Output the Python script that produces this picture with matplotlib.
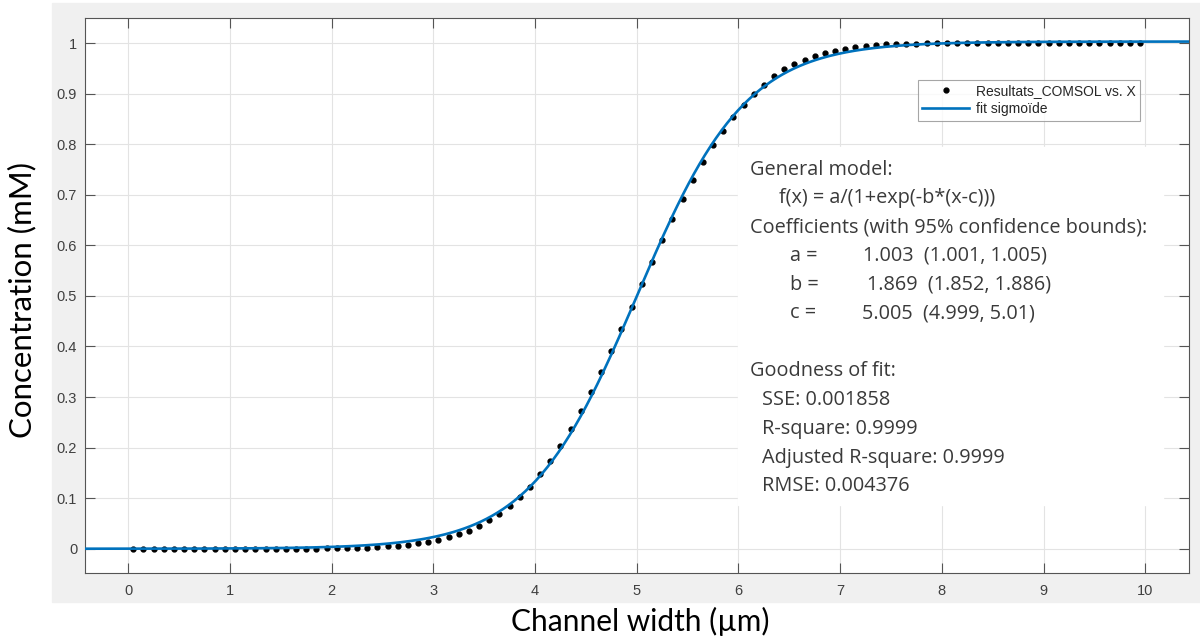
import matplotlib.pyplot as plt
import numpy as np
from matplotlib.patches import Rectangle

# Points simulés (COMSOL), un point tous les 0.1 µm
x_data = np.linspace(0.05, 9.95, 100)
y_data = [
    0.0, 0.0, 0.0, 0.0, 0.0, 0.0, 0.0, 0.0, 0.0, 0.0,
    0.0, 0.0, 0.0, 0.0, 0.0, 0.0001, 0.0001, 0.0002, 0.0003, 0.0005,
    0.0007, 0.0011, 0.0016, 0.0023, 0.0033, 0.0046, 0.0062, 0.0083, 0.0110, 0.0140,
    0.0175, 0.0226, 0.0288, 0.0360, 0.0453, 0.0560, 0.0690, 0.0840, 0.1020, 0.1230,
    0.1470, 0.1740, 0.2040, 0.2370, 0.2720, 0.3100, 0.3490, 0.3910, 0.4350, 0.4780,
    0.5230, 0.5670, 0.6100, 0.6520, 0.6920, 0.7300, 0.7650, 0.7980, 0.8270, 0.8540,
    0.8780, 0.8990, 0.9180, 0.9340, 0.9480, 0.9580, 0.9670, 0.9740, 0.9800, 0.9850,
    0.9890, 0.9920, 0.9945, 0.9960, 0.9972, 0.9980, 0.9986, 0.9991, 0.9994, 0.9996,
    0.9997, 0.9998, 0.9999, 0.9999, 1.0, 1.0, 1.0, 1.0, 1.0, 1.0,
    1.0, 1.0, 1.0, 1.0, 1.0, 1.0, 1.0, 1.0, 1.0, 1.0,
]

# Coefficients du fit sigmoïde
a, b, c = 1.003, 1.869, 5.005

x_ticks = [0, 1, 2, 3, 4, 5, 6, 7, 8, 9, 10]
y_ticks = [0, 0.1, 0.2, 0.3, 0.4, 0.5, 0.6, 0.7, 0.8, 0.9, 1]
y_tick_labels = ['0', '0.1', '0.2', '0.3', '0.4', '0.5', '0.6', '0.7', '0.8', '0.9', '1']

fit_lines = [
    ('General model:', 750),
    ('f(x) = a/(1+exp(-b*(x-c)))', 779),
    ('Coefficients (with 95% confidence bounds):', 750),
]
coef_lines = [
    ('a =', '1.003  (1.001, 1.005)', 863),
    ('b =', '1.869  (1.852, 1.886)', 867),
    ('c =', '5.005  (4.999, 5.01)', 862),
]
gof_lines = [
    ('Goodness of fit:', 750),
    ('SSE: 0.001858', 762),
    ('R-square: 0.9999', 762),
    ('Adjusted R-square: 0.9999', 762),
    ('RMSE: 0.004376', 762),
]

W, H = 1200, 639
fig = plt.figure(figsize=(W / 100, H / 100), dpi=100)
fig.patch.set_facecolor('white')


def fx(px):
    return px / W


def fy(py):
    return 1 - py / H


# fond gris de la figure MATLAB
fig.patches.append(Rectangle((fx(52), fy(602)), fx(W - 52), (602 - 3) / H,
                             transform=fig.transFigure, color='#f0f0f0', zorder=-5))

ax = fig.add_axes([fx(85.5), fy(573), (1189 - 85.5) / W, (573 - 18.3) / H])
ax.set_facecolor('white')

# courbe du fit
x_fit = np.linspace(-0.42, 10.43, 400)
y_fit = a / (1 + np.exp(-b * (x_fit - c)))

ax.plot(x_data, y_data, 'o', color='black', markersize=3.5, label='Resultats_COMSOL vs. X', zorder=3)
ax.plot(x_fit, y_fit, color='#0072BD', lw=1.9, label='fit sigmoïde', zorder=4)

ax.set_xlim(-0.42, 10.43)
ax.set_ylim(-0.048, 1.049)
ax.set_xticks(x_ticks)
ax.set_yticks(y_ticks)
ax.set_yticklabels(y_tick_labels)
ax.grid(True, color='#e3e3e3', lw=0.8)
ax.set_axisbelow(True)
ax.tick_params(direction='in', length=7, width=0.8, top=True, right=True,
               color='#555555', labelcolor='#404040', labelsize=10.5)
ax.tick_params(axis='x', pad=8)
ax.tick_params(axis='y', pad=6)
for lab in ax.get_xticklabels() + ax.get_yticklabels():
    lab.set_family('Liberation Sans')
for s in ax.spines.values():
    s.set_color('#555555')
    s.set_linewidth(0.8)

leg = ax.legend(loc='upper left', bbox_to_anchor=(fx(918), fy(80)), bbox_transform=fig.transFigure,
                borderaxespad=0, frameon=True, fancybox=False, handlelength=3.4, handletextpad=0.5,
                labelspacing=0.3, borderpad=0.3, prop={'family': 'Liberation Sans', 'size': 10})
leg.get_frame().set_edgecolor('#909090')
leg.get_frame().set_linewidth(0.8)
for t in leg.get_texts():
    t.set_color('#262626')

# boîte de texte blanche (au-dessus de la grille)
ax.add_patch(Rectangle((fx(738), fy(505)), fx(1163 - 738), (505 - 147) / H,
                       transform=fig.transFigure, color='white', zorder=2))

txt = dict(family='Open Sans', fontsize=14.3, color='#3a3a3a', va='baseline', zorder=5)
base = 174.5
step = 28.8
for i, (s, px) in enumerate(fit_lines):
    fig.text(fx(px), fy(base + i * step), s, **txt)
for i, (lab, val, px) in enumerate(coef_lines):
    yy = fy(base + (i + 3) * step)
    fig.text(fx(790), yy, lab, **txt)
    fig.text(fx(px), yy, val, **txt)
for i, (s, px) in enumerate(gof_lines):
    fig.text(fx(px), fy(base + (i + 7) * step), s, **txt)

fig.text(fx(640), fy(621), 'Channel width (µm)', ha='center', va='center',
         family='Lato', fontsize=21.5, color='black')
fig.text(fx(22), fy(300), 'Concentration (mM)', ha='center', va='center', rotation=90,
         family='Lato', fontsize=22.5, color='black')

fig.savefig('out.png', dpi=100)
